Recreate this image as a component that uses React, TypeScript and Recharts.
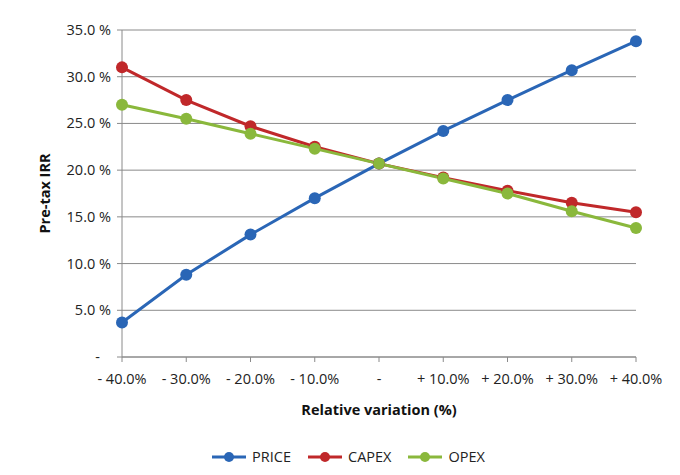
import React from 'react';
import { LineChart, Line, XAxis, YAxis, CartesianGrid, Legend } from 'recharts';

const categories = ['- 40.0%', '- 30.0%', '- 20.0%', '- 10.0%', '-', '+ 10.0%', '+ 20.0%', '+ 30.0%', '+ 40.0%'];
const price = [3.7, 8.8, 13.1, 17.0, 20.7, 24.2, 27.5, 30.7, 33.8];
const capex = [31.0, 27.5, 24.7, 22.5, 20.7, 19.2, 17.8, 16.5, 15.5];
const opex = [27.0, 25.5, 23.9, 22.3, 20.7, 19.1, 17.5, 15.6, 13.8];
const yTicks = [0, 5, 10, 15, 20, 25, 30, 35];

const series = [
  { key: 'PRICE', color: '#2A66B6', values: price },
  { key: 'CAPEX', color: '#C0282A', values: capex },
  { key: 'OPEX', color: '#8AB83C', values: opex },
];

const data = categories.map((c, i) => ({
  cat: c,
  PRICE: price[i],
  CAPEX: capex[i],
  OPEX: opex[i],
}));

const FONT = '"Open Sans", Lato, sans-serif';
const FS = 14.5;

const LegendContent = () => (
  <div style={{ display: 'flex', justifyContent: 'center', fontFamily: FONT, fontSize: FS, color: '#222', paddingLeft: 53 }}>
    {series.map((s, i) => (
      <div key={s.key} style={{ display: 'flex', alignItems: 'center', marginRight: i < series.length - 1 ? 17 : 0 }}>
        <svg width={34} height={12} style={{ marginRight: 6 }}>
          <line x1={0} y1={6} x2={34} y2={6} stroke={s.color} strokeWidth={3} />
          <circle cx={17} cy={6} r={5} fill={s.color} />
        </svg>
        <span>{s.key}</span>
      </div>
    ))}
  </div>
);

const YTick = (props: any) => {
  const { x, y, payload } = props;
  const v = payload.value as number;
  const label = v === 0 ? '-' : `${v.toFixed(1)} %`;
  return (
    <text x={v === 0 ? x - 11 : x} y={y} dy={5} textAnchor="end" fill="#222" fontSize={FS} fontFamily={FONT}>
      {label}
    </text>
  );
};

export default function App() {
  return (
    <div style={{ width: 672, height: 467, background: '#fff' }}>
      <LineChart width={672} height={467} data={data} margin={{ top: 22, right: 44, left: 0, bottom: 8 }}>
        <CartesianGrid vertical={false} stroke="#8a8a8a" strokeWidth={1} />
        <XAxis
          dataKey="cat"
          stroke="#8a8a8a"
          tickLine={{ stroke: '#8a8a8a' }}
          tickSize={5}
          tickMargin={12}
          tick={{ fill: '#222', fontSize: FS, fontFamily: FONT }}
          height={90}
          interval={0}
          label={{ value: 'Relative variation (%)', position: 'insideBottom', offset: 32, fill: '#111', fontSize: FS, fontWeight: 'bold', fontFamily: FONT }}
        />
        <YAxis
          domain={[0, 35]}
          ticks={yTicks}
          width={114}
          stroke="#8a8a8a"
          tickLine={{ stroke: '#8a8a8a' }}
          tickSize={5}
          tickMargin={6}
          tick={<YTick />}
          label={{ value: 'Pre-tax IRR', angle: -90, position: 'insideLeft', offset: 37, fill: '#111', fontSize: FS, fontWeight: 'bold', fontFamily: FONT, style: { textAnchor: 'middle' } }}
        />
        <Legend verticalAlign="bottom" height={20} content={<LegendContent />} />
        {series.map((s) => (
          <Line
            key={s.key}
            dataKey={s.key}
            stroke={s.color}
            strokeWidth={3}
            dot={{ r: 6, fill: s.color, stroke: s.color, strokeWidth: 0 }}
            activeDot={false}
            isAnimationActive={false}
          />
        ))}
      </LineChart>
    </div>
  );
}
